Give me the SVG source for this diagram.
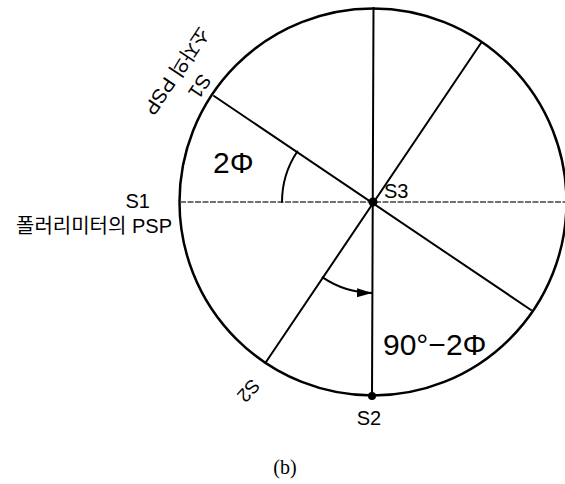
<svg xmlns="http://www.w3.org/2000/svg" width="565" height="484" viewBox="0 0 565 484">
<style>
.ln{stroke:#000;stroke-width:2;fill:none;stroke-linecap:round}
.axis{stroke:#444;stroke-width:1.5;fill:none;stroke-dasharray:6 1.5}
.t{font-family:"Liberation Sans","Noto Sans CJK KR",sans-serif;fill:#000}
.k{font-family:"Liberation Sans","Noto Sans CJK KR",sans-serif;fill:#000;font-size:20px}
</style>
<defs>
<marker id="ah" viewBox="0 0 15 9" refX="15" refY="4.5" markerWidth="15" markerHeight="9" markerUnits="userSpaceOnUse" orient="auto">
<path d="M0,0 L15,4.5 L0,9 Z" fill="#000"/>
</marker>
</defs>
<rect width="565" height="484" fill="#fff"/>
<g id="circle">
<circle cx="373" cy="202" r="193.5" fill="none" stroke="#000" stroke-width="2.5"/>
</g>
<g id="connectors">
<line class="axis" x1="180" y1="202" x2="566" y2="202"/>
<line class="ln" x1="373.5" y1="8" x2="372" y2="396"/>
<line class="ln" x1="214" y1="96" x2="531" y2="310"/>
<line class="ln" x1="481" y1="43" x2="266" y2="362"/>
<path class="ln" d="M282,202 A91,91 0 0 1 297.3,151.5" stroke-width="1.8"/>
<path class="ln" d="M322.6,277.4 A91,91 0 0 0 372,293" stroke-width="1.8" marker-end="url(#ah)"/>
</g>
<g id="node-S3">
<circle cx="373" cy="202" r="4.5" fill="#000"/>
<text class="t" x="384" y="198" font-size="20">S3</text>
</g>
<g id="node-S2">
<circle cx="372" cy="396" r="4" fill="#000"/>
<text class="t" x="369" y="425" font-size="20" text-anchor="middle">S2</text>
</g>
<g id="label-2phi">
<text class="t" x="213" y="173" font-size="30">2Φ</text>
</g>
<g id="label-90-2phi">
<text class="t" x="383" y="355" font-size="30">90°−2Φ</text>
</g>
<g id="label-polarimeter">
<text class="t" x="150" y="208" font-size="20" text-anchor="end">S1</text>
<text class="k" x="172" y="233" text-anchor="end">폴러리미터의 PSP</text>
</g>
<g id="label-element" transform="translate(214,96) rotate(123.7)">
<text class="k" x="0" y="24" text-anchor="middle">S1</text>
<text class="k" x="0" y="52" text-anchor="middle">소자의 PSP</text>
</g>
<g id="label-S2-rot" transform="translate(249,391) rotate(132)">
<text class="t" x="0" y="7" font-size="19" text-anchor="middle">S2</text>
</g>
<g id="caption">
<text x="285" y="474" font-family="'Liberation Serif',serif" font-size="20" text-anchor="middle">(b)</text>
</g>
</svg>
